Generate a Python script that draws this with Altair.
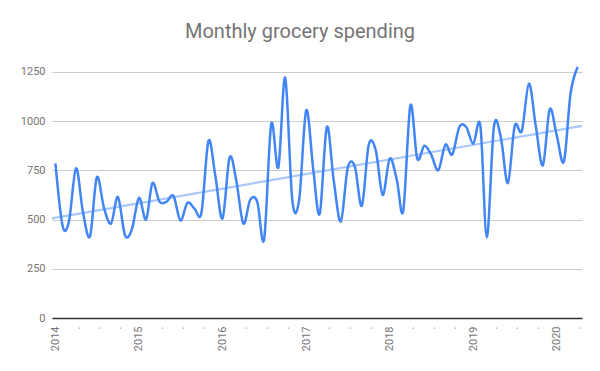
import altair as alt
import pandas as pd

# Monthly data, Jan 2014 .. Apr 2020
months = pd.date_range("2014-01-01", periods=76, freq="MS").strftime("%Y-%m-%d").tolist()
spending = [
    785, 470, 490, 760, 540, 415, 715, 560, 480, 615, 420, 450,
    610, 500, 685, 590, 590, 620, 495, 585, 555, 535, 900, 720,
    505, 815, 700, 480, 600, 590, 400, 985, 765, 1220, 600, 600,
    1055, 750, 530, 970, 700, 490, 760, 770, 570, 880, 850, 625,
    810, 700, 545, 1080, 810, 875, 830, 750, 880, 830, 970, 970,
    885, 975, 410, 970, 920, 685, 975, 950, 1190, 975, 775, 1060,
    925, 795, 1140, 1275,
]
y_ticks = [0, 250, 500, 750, 1000, 1250]
quarters = pd.date_range("2014-01-01", "2020-04-01", freq="QS").strftime("%Y-%m-%d").tolist()


def ms(s):
    return int(pd.Timestamp(s, tz="UTC").value // 10**6)


x_domain = [ms("2013-12-17"), ms("2020-04-20")]
quarter_ms = [ms(q) for q in quarters]

df = pd.DataFrame({"month": months, "spending": spending})

label_color = "#757575"
font = "Roboto"

x_axis = alt.Axis(
    values=quarter_ms,
    labelExpr="utcmonth(datum.value) == 0 ? utcFormat(datum.value, '%Y') : '.'",
    labelAngle=-90,
    labelAlign="right",
    labelBaseline="middle",
    labelPadding=8,
    labelFontSize=11,
    labelColor=label_color,
    labelFont=font,
    labelOverlap=False,
    labelFlush=False,
    ticks=False,
    grid=False,
    domainColor="#333333",
    domainWidth=1.5,
    title=None,
)
y_axis = alt.Axis(
    values=y_ticks,
    format="d",
    grid=True,
    gridColor="#cccccc",
    domain=False,
    ticks=False,
    labelPadding=7,
    labelFontSize=11,
    labelColor=label_color,
    labelFont=font,
    title=None,
)

x_scale = alt.Scale(type="utc", domain=x_domain)
y_scale = alt.Scale(domain=[0, 1300], nice=False)

line = alt.Chart(df).mark_line(
    color="#4285F4", strokeWidth=2.5, interpolate="cardinal"
).encode(
    x=alt.X("month:T", scale=x_scale, axis=x_axis),
    y=alt.Y("spending:Q", scale=y_scale, axis=y_axis),
)

trend = alt.Chart(df).transform_calculate(
    t="time(toDate(datum.month))"
).transform_regression(
    "t", "spending", extent=x_domain
).mark_line(
    color="#aac7f9", strokeWidth=2.2
).encode(
    x=alt.X("t:T", scale=x_scale, axis=x_axis),
    y=alt.Y("spending:Q", scale=y_scale, axis=y_axis),
)

chart = alt.layer(trend, line).properties(
    width=530,
    height=256,
    title=alt.TitleParams(
        "Monthly grocery spending",
        fontSize=20,
        font=font,
        fontWeight="normal",
        color=label_color,
        anchor="middle",
        dx=-17,
        offset=20,
    ),
    autosize=alt.AutoSizeParams(type="none"),
    padding={"left": 44, "top": 54, "right": 10, "bottom": 45},
).configure_view(stroke=None)

chart.save("out.html", embed_options={"renderer": "svg", "actions": False})
